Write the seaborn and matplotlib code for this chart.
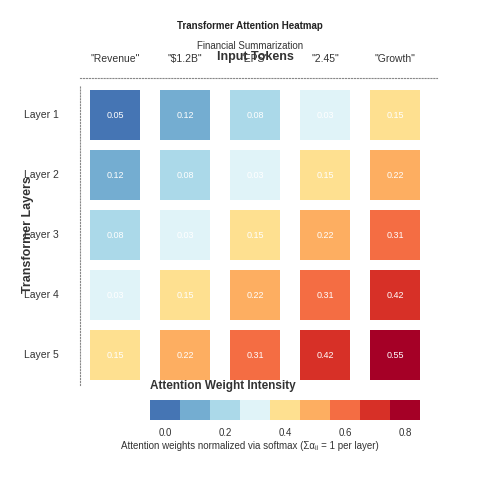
import numpy as np
import pandas as pd
import seaborn as sns
import matplotlib
matplotlib.use("Agg")
import matplotlib.pyplot as plt
from matplotlib.colors import ListedColormap, BoundaryNorm

tokens = ['"Revenue"', '"$1.2B"', '"EPS"', '"2.45"', '"Growth"']
layers = ["Layer 1", "Layer 2", "Layer 3", "Layer 4", "Layer 5"]
values = [
    [0.05, 0.12, 0.08, 0.03, 0.15],
    [0.12, 0.08, 0.03, 0.15, 0.22],
    [0.08, 0.03, 0.15, 0.22, 0.31],
    [0.03, 0.15, 0.22, 0.31, 0.42],
    [0.15, 0.22, 0.31, 0.42, 0.55],
]
palette = ["#4575b4", "#74add1", "#abd9e9", "#e0f3f8", "#fee090",
           "#fdae61", "#f46d43", "#d73027", "#a50026"]

sns.set_style("white")
plt.rcParams['font.family'] = ['Liberation Sans', 'DejaVu Sans']

vals = np.array(values)
n = len(layers)
level = np.add.outer(np.arange(n), np.arange(len(tokens))) / 10.0
df_level = pd.DataFrame(level, index=layers, columns=tokens)
annot = np.array([[f"{v:.2f}" for v in r] for r in values])

cmap = ListedColormap(palette)
bounds = np.arange(-0.05, 0.86, 0.1)
norm = BoundaryNorm(bounds, cmap.N)

fig = plt.figure(figsize=(5, 5), dpi=100)
ax = fig.add_axes([0.16, 0.23, 0.70, 0.60])
sns.heatmap(df_level, ax=ax, cmap=cmap, norm=norm, annot=annot, fmt="",
            annot_kws={"color": "white", "fontsize": 6.5}, cbar=False)
for x in range(len(tokens) + 1):
    ax.axvline(x, color="white", lw=14.4)
for y in range(n + 1):
    ax.axhline(y, color="white", lw=7.2)
ax.xaxis.tick_top()
ax.xaxis.set_label_position("top")
ax.tick_params(axis="x", length=0, labelsize=7.5, colors="#333333", pad=10)
ax.tick_params(axis="y", length=0, labelsize=7.5, colors="#333333", pad=15)
ax.set_yticklabels(layers, rotation=0)
ax.set_xlabel("Input Tokens", fontsize=9, fontweight="bold", labelpad=-4, color="#333333")
ax.set_ylabel("Transformer Layers", fontsize=9, fontweight="bold", color="#333333")
ax.yaxis.set_label_coords(-0.13, 0.5)
for s in ["top", "left"]:
    ax.spines[s].set_visible(True)
    ax.spines[s].set_linestyle(":")
    ax.spines[s].set_color("#888888")
    ax.spines[s].set_zorder(5)
ax.spines["top"].set_bounds(0, 5.1)
ax.spines["top"].set_position(("outward", 5))
ax.spines["right"].set_visible(False)
ax.spines["bottom"].set_visible(False)

fig.text(0.5, 0.948, "Transformer Attention Heatmap", ha="center", va="center",
         fontsize=7, fontweight="bold", color="#222222")
fig.text(0.5, 0.908, "Financial Summarization", ha="center", va="center",
         fontsize=7, color="#333333")

cax = fig.add_axes([0.30, 0.16, 0.54, 0.04])
sm = matplotlib.cm.ScalarMappable(norm=norm, cmap=cmap)
cb = fig.colorbar(sm, cax=cax, orientation="horizontal", ticks=[0, 0.2, 0.4, 0.6, 0.8])
cb.outline.set_visible(False)
cax.minorticks_off()
cax.tick_params(which="both", length=0, labelsize=7, colors="#333333", pad=6)
cax.set_xticklabels(["0.0", "0.2", "0.4", "0.6", "0.8"])
fig.text(0.30, 0.228, "Attention Weight Intensity", ha="left", va="center",
         fontsize=8.5, fontweight="bold", color="#333333")
fig.text(0.50, 0.108, "Attention weights normalized via softmax (Σαᵢⱼ = 1 per layer)",
         ha="center", va="center", fontsize=7, color="#333333")

fig.savefig("out.png", dpi=100)
